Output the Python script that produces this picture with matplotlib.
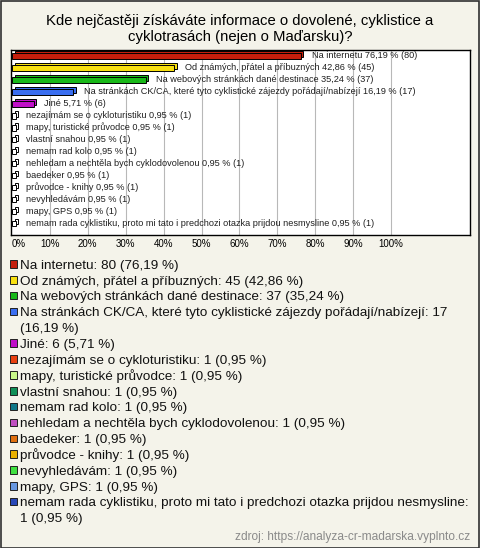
import matplotlib
matplotlib.use("Agg")
import matplotlib.pyplot as plt
from matplotlib.patches import Rectangle

plt.rcParams['font.family'] = ['Liberation Sans', 'DejaVu Sans']

title = "Kde nejčastěji získáváte informace o dovolené, cyklistice a\ncyklotrasách (nejen o Maďarsku)?"
labels = ["Na internetu", "Od známých, přátel a příbuzných", "Na webových stránkách dané destinace",
          "Na stránkách CK/CA, které tyto cyklistické zájezdy pořádají/nabízejí", "Jiné",
          "nezajímám se o cykloturistiku", "mapy, turistické průvodce", "vlastní snahou",
          "nemam rad kolo", "nehledam a nechtěla bych cyklodovolenou", "baedeker",
          "průvodce - knihy", "nevyhledávám", "mapy, GPS",
          "nemam rada cyklistiku, proto mi tato i predchozi otazka prijdou nesmysline"]
counts = [80, 45, 37, 17, 6, 1, 1, 1, 1, 1, 1, 1, 1, 1, 1]
percents = [76.19, 42.86, 35.24, 16.19, 5.71, 0.95, 0.95, 0.95, 0.95, 0.95, 0.95, 0.95, 0.95, 0.95, 0.95]
colors = ["#c41e0c", "#f8e010", "#18b818", "#3a6ef0", "#c010c8", "#e84010", "#c8f888", "#109058",
          "#107888", "#c050c0", "#e07010", "#e8b000", "#40e040", "#6898e0", "#2848b8"]
ticks = [0, 10, 20, 30, 40, 50, 60, 70, 80, 90, 100]
source = "zdroj: https://analyza-cr-madarska.vyplnto.cz"

W, H = 480, 548
bg = "#f4f3ea"
fig = plt.figure(figsize=(W / 100, H / 100), dpi=100, facecolor=bg)


def fx(px):
    return px / W


def fy(py):
    return 1 - py / H


fig.patches.append(Rectangle((0.5 / W, 0.5 / H), 1 - 1.5 / W, 1 - 1.5 / H, transform=fig.transFigure,
                             facecolor='none', edgecolor='#303030', lw=1.2))

fig.text(0.5, fy(29), title, ha='center', va='center', fontsize=10.7, linespacing=1.2)

# plot area
ax = fig.add_axes([fx(11), fy(235), fx(470 - 11), (235 - 50) / H])
ax.set_facecolor('white')
pxpct = 3.79
ax.set_xlim(-1 / pxpct, (470 - 12) / pxpct)
ax.set_ylim(14.92, -0.5)
n = len(labels)
ys = list(range(n))
dx = 2.5 / pxpct
dy = 2 / 12
h = 0.42

for t in ticks[1:]:
    ax.axvline(t, color='#b8b8b8', lw=0.8, zorder=0)

for y, v, c, lab, cnt in zip(ys, percents, colors, labels, counts):
    face = c if v > 2 else 'white'
    ax.barh(y - dy, v, left=dx, height=h, color=face, edgecolor='black', lw=0.7, zorder=2)
    ax.barh(y, v, left=0, height=h, color=face, edgecolor='black', lw=0.7, zorder=3)
    ax.text(v + dx + 2.2, y - 0.05, f"{lab} {str(v).replace('.', ',')} % ({cnt})",
            va='center', ha='left', fontsize=6.6, color='#202020', zorder=4)

ax.set_xticks(ticks)
ax.set_xticklabels([f"{t}%" for t in ticks], fontsize=7)
ax.get_xticklabels()[0].set_horizontalalignment('left')
ax.tick_params(axis='x', length=0, pad=3)
ax.set_yticks([])
for s in ax.spines.values():
    s.set_color('black')
    s.set_linewidth(1)

# legend
fig.canvas.draw()
renderer = fig.canvas.get_renderer()
fs = 9.7
maxw = 450
line = 15.85
yy = 264
for lab, cnt, p, c in zip(labels, counts, percents, colors):
    full = f"{lab}: {cnt} ({str(p).replace('.', ',')} %)"
    words = full.split(' ')
    lines = []
    cur = ''
    for w in words:
        trial = (cur + ' ' + w).strip()
        tt = fig.text(0, 0, trial, fontsize=fs)
        wpx = tt.get_window_extent(renderer).width
        tt.remove()
        if wpx > maxw and cur:
            lines.append(cur)
            cur = w
        else:
            cur = trial
    lines.append(cur)
    fig.patches.append(Rectangle((fx(9.5), fy(yy + 3.7)), 7.5 / W, 7.5 / H, transform=fig.transFigure,
                                 facecolor=c, edgecolor='#202020', lw=0.7))
    for ln in lines:
        fig.text(fx(20), fy(yy + 4.7), ln, fontsize=fs, va='baseline', ha='left', color='#111111')
        yy += line

fig.text(fx(470), fy(537), source, fontsize=8.6, ha='right', va='center', color='#8a8a8a')

fig.savefig("out.png", dpi=100, facecolor=bg)
